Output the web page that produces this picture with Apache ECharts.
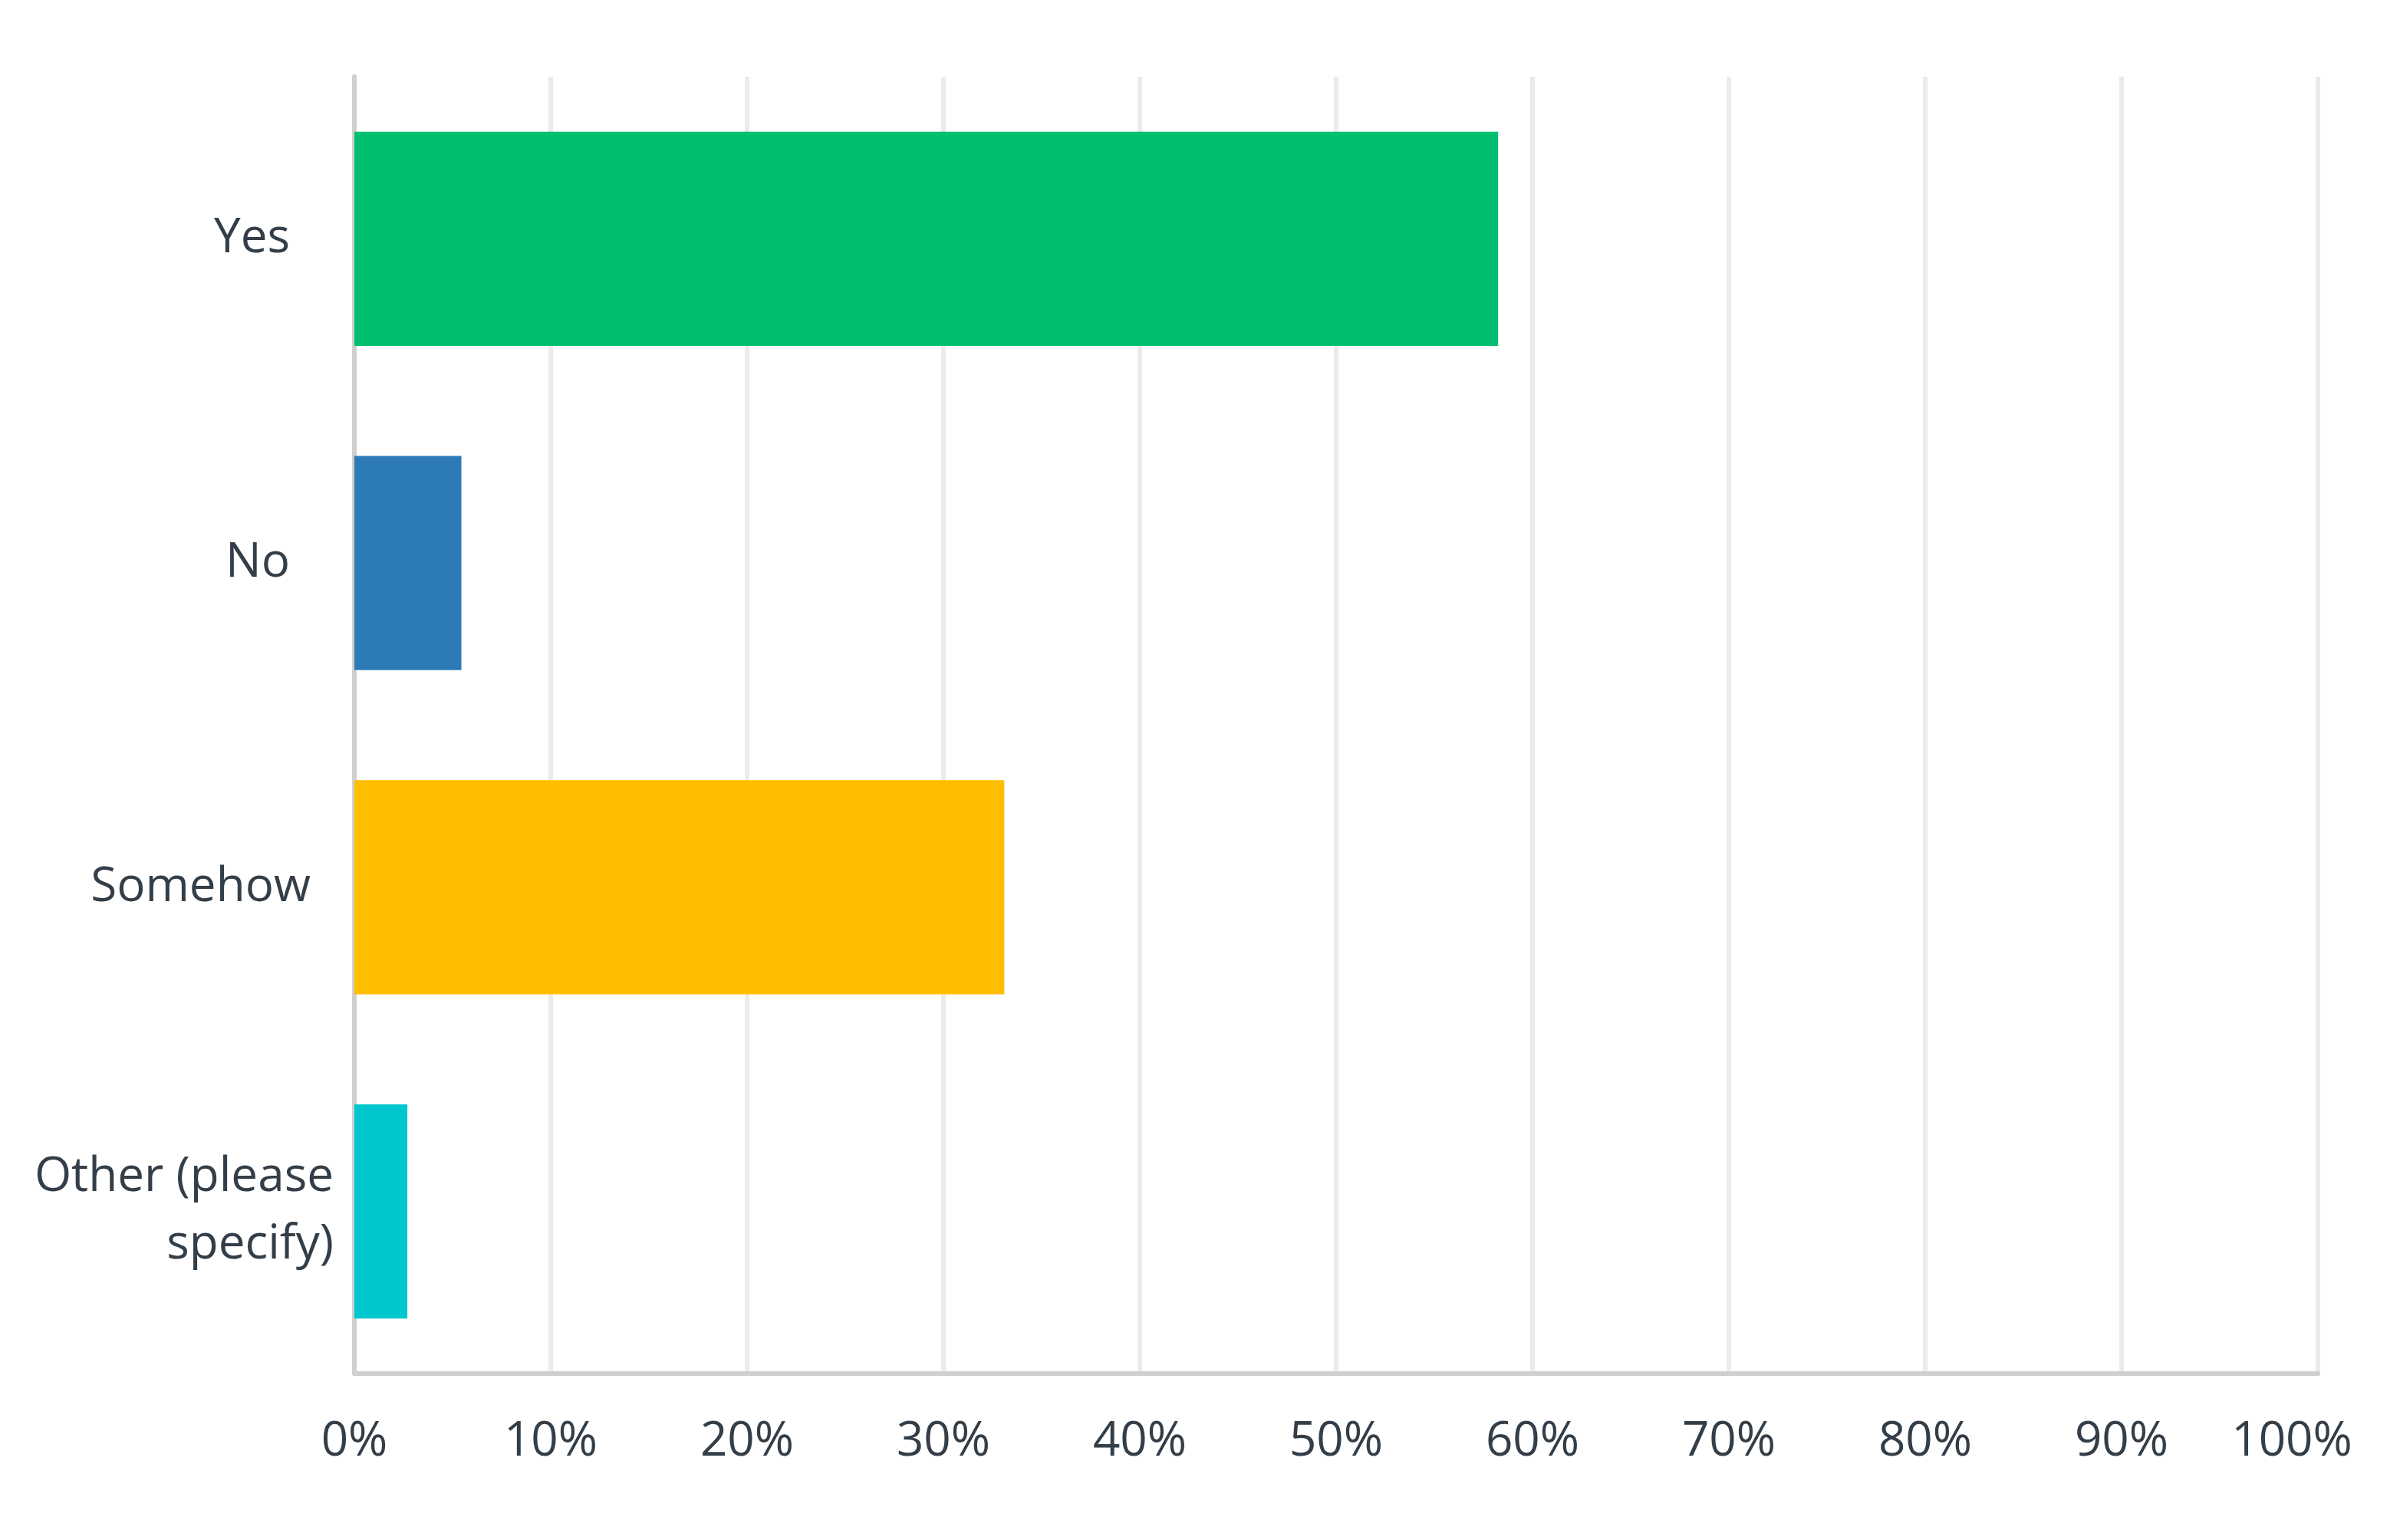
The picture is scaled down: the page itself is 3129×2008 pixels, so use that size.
<!DOCTYPE html>
<html>
<head>
<meta charset="utf-8">
<script src="https://cdn.jsdelivr.net/npm/echarts@6/dist/echarts.min.js"></script>
<style>
  html, body { margin: 0; padding: 0; background: #fff; }
  #chart { width: 3129px; height: 2008px; }
</style>
</head>
<body>
<div id="chart"></div>
<script>
var chart = echarts.init(document.getElementById('chart'), null, { renderer: 'canvas' });

// answer choices, top to bottom
var categories = ['Yes', 'No', 'Somehow', 'Other (please\nspecify)'];
// share of respondents, %
var values = [58.25, 5.45, 33.1, 2.7];
var barColors = ['#00bf6f', '#2d7bb6', '#ffbe00', '#00c6cd'];
var xTicks = [0, 10, 20, 30, 40, 50, 60, 70, 80, 90, 100];

// label right edges are a bit ragged in the original
var labelPad = [57, 57, 30, 0];

var textColor = '#333e48';
var font = '"Open Sans", "Noto Sans", sans-serif';

function ylabelStyle(pad) {
    return { color: textColor, fontFamily: font, fontSize: 62, lineHeight: 88, align: 'right', padding: [0, pad, 0, 0] };
}

chart.setOption({
    animation: false,
    backgroundColor: '#ffffff',
    grid: {
        left: 462,
        right: 107,
        top: 100,
        bottom: 217,
        containLabel: false
    },
    xAxis: {
        type: 'value',
        min: xTicks[0],
        max: xTicks[xTicks.length - 1],
        interval: 10,
        axisLine: { show: true, lineStyle: { color: '#cfcfcf', width: 6 } },
        axisTick: { show: false },
        splitLine: { show: true, lineStyle: { color: '#ebebeb', width: 6 } },
        axisLabel: {
            color: textColor,
            fontFamily: font,
            fontSize: 62,
            margin: 58,
            formatter: function (v) {
                // last label sits a little left of its gridline
                return v === 100 ? '{last|' + v + '%}' : v + '%';
            },
            rich: {
                last: { color: textColor, fontFamily: font, fontSize: 62, padding: [0, 68, 0, 0] }
            }
        }
    },
    yAxis: {
        type: 'category',
        inverse: true,
        data: categories,
        axisLine: { show: true, lineStyle: { color: '#cfcfcf', width: 6 } },
        axisTick: { show: false },
        splitLine: { show: false },
        axisLabel: {
            margin: 27,
            formatter: function (val, idx) {
                return '{p' + idx + '|' + val + '}';
            },
            rich: {
                p0: ylabelStyle(labelPad[0]),
                p1: ylabelStyle(labelPad[1]),
                p2: ylabelStyle(labelPad[2]),
                p3: ylabelStyle(labelPad[3])
            }
        }
    },
    series: [{
        type: 'bar',
        barWidth: '66%',
        data: values.map(function (v, i) {
            return { value: v, itemStyle: { color: barColors[i] } };
        }),
        label: { show: false }
    }]
});
</script>
</body>
</html>
